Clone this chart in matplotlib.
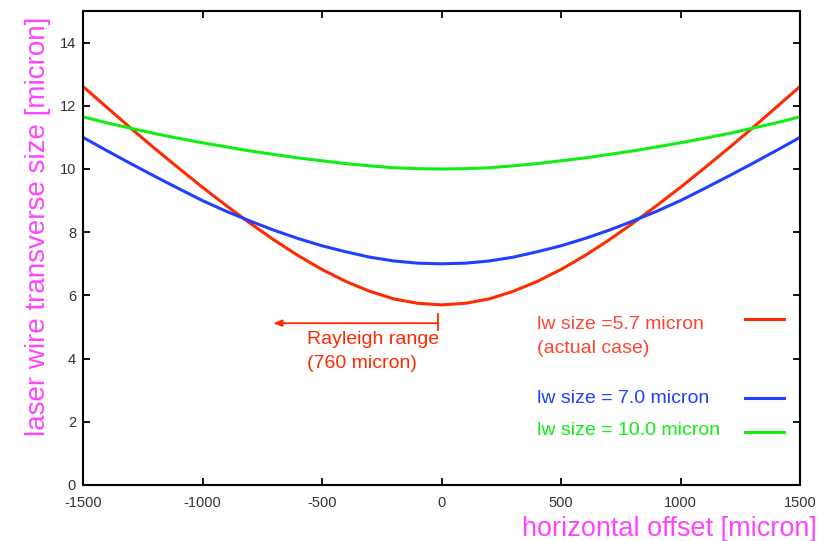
import numpy as np
import matplotlib
matplotlib.use('Agg')
import matplotlib.pyplot as plt

plt.rcParams['font.family'] = ['Liberation Sans', 'DejaVu Sans']
plt.rcParams['axes.unicode_minus'] = False

# horizontal offset [micron]
offset = [-1500, -1400, -1300, -1200, -1100, -1000, -900, -800, -700, -600, -500,
          -400, -300, -200, -100, 0, 100, 200, 300, 400, 500, 600, 700, 800, 900,
          1000, 1100, 1200, 1300, 1400, 1500]

# lw size = 5.7 micron (actual case)
size_57 = [12.61, 11.95, 11.29, 10.65, 10.03, 9.42, 8.84, 8.28, 7.75, 7.26, 6.82,
           6.44, 6.13, 5.89, 5.75, 5.70, 5.75, 5.89, 6.13, 6.44, 6.82, 7.26, 7.75,
           8.28, 8.84, 9.42, 10.03, 10.65, 11.29, 11.95, 12.61]
# lw size = 7.0 micron
size_70 = [11.0, 10.58, 10.17, 9.77, 9.38, 9.0, 8.66, 8.35, 8.06, 7.8, 7.57,
           7.38, 7.21, 7.09, 7.02, 7.0, 7.02, 7.09, 7.21, 7.38, 7.57, 7.8, 8.06,
           8.35, 8.66, 9.0, 9.38, 9.77, 10.17, 10.58, 11.0]
# lw size = 10.0 micron
size_100 = [11.65, 11.46, 11.29, 11.12, 10.97, 10.83, 10.7, 10.57, 10.46, 10.35, 10.26,
            10.17, 10.1, 10.04, 10.01, 10.0, 10.01, 10.04, 10.1, 10.17, 10.26, 10.35,
            10.46, 10.57, 10.7, 10.83, 10.97, 11.12, 11.29, 11.46, 11.65]

RED = '#ff2a00'
BLUE = '#2040ff'
GREEN = '#11ee11'
MAGENTA = '#ff44ff'

fig = plt.figure(figsize=(8.24, 5.41), dpi=100)
ax = fig.add_axes([83/824, 1-485/541, 717/824, 474/541])

ax.plot(offset, size_57, color=RED, lw=2.2)
ax.plot(offset, size_70, color=BLUE, lw=2.2)
ax.plot(offset, size_100, color=GREEN, lw=2.2)

ax.set_xlim(-1500, 1500)
ax.set_ylim(0, 15)
ax.set_xticks(range(-1500, 1501, 500))
ax.set_yticks(range(0, 15, 2))
ax.tick_params(direction='in', top=True, right=True, length=5, width=1.3,
               labelsize=10.5, labelcolor='#333333')
ax.tick_params(axis='x', pad=8)
ax.tick_params(axis='y', pad=5)
for s in ax.spines.values():
    s.set_linewidth(1.5)

# Rayleigh range marker
ax.annotate('', xy=(-704, 5.12), xytext=(-16, 5.12),
            arrowprops=dict(arrowstyle='-|>,head_length=0.5,head_width=0.2',
                            color=RED, lw=1.3, shrinkA=0, shrinkB=0))
ax.plot([-16, -16], [4.89, 5.41], color=RED, lw=1.3)
ax.text(-564, 4.6, 'Rayleigh range', color=RED, fontsize=14, va='center')
ax.text(-564, 3.84, '(760 micron)', color=RED, fontsize=14, va='center')

# legend
ax.text(398, 5.08, 'lw size =5.7 micron', color='#ff4433', fontsize=14, va='center')
ax.text(398, 4.33, '(actual case)', color='#ff4433', fontsize=14, va='center')
ax.plot([1270, 1433], [5.26, 5.26], color=RED, lw=2.2)
ax.text(398, 2.75, 'lw size = 7.0 micron', color=BLUE, fontsize=14, va='center')
ax.plot([1270, 1433], [2.75, 2.75], color=BLUE, lw=2.2)
ax.text(398, 1.71, 'lw size = 10.0 micron', color=GREEN, fontsize=14, va='center')
ax.plot([1270, 1433], [1.68, 1.68], color=GREEN, lw=2.2)

fig.text(38/824, 1-226/541, 'laser wire transverse size [micron]', color=MAGENTA,
         fontsize=20, rotation=90, ha='center', va='center')
fig.text(817/824, 1-529/541, 'horizontal offset [micron]', color=MAGENTA,
         fontsize=19.5, ha='right', va='center')

fig.savefig('out.png', dpi=100)
